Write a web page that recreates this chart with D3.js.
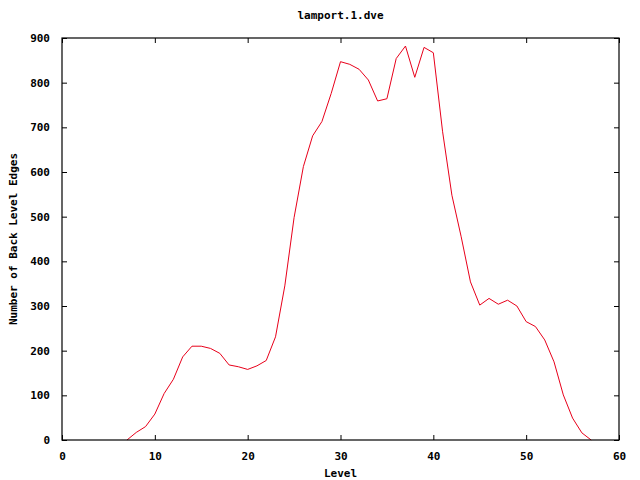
<!DOCTYPE html>
<html>
<head>
<meta charset="utf-8">
<script src="https://cdn.jsdelivr.net/npm/d3@7"></script>
<style>
  body { margin: 0; background: #fff; }
  text { font-family: "DejaVu Sans Mono", "Liberation Mono", monospace; font-weight: bold; font-size: 11px; fill: #000; }
</style>
</head>
<body>
<div id="chart"></div>
<script>
// Levels and back-level edge counts
// (levels 0-6 are zero and hidden under the x axis, so the line starts at 7)
const levels = d3.range(7, 58);
const edges = [
    0, 17, 30,
    58, 104, 136, 186, 210, 210, 205, 194, 168, 164,
    158, 166, 178, 231, 345, 498, 612, 681, 713, 776,
    847, 841, 830, 806, 759, 764, 854, 882, 812, 879,
    867, 690, 548, 455, 354, 302, 317, 304, 313, 300,
    265, 254, 224, 175, 101, 49, 16, 0
];
const xTicks = [0, 10, 20, 30, 40, 50, 60];
const yTicks = [0, 100, 200, 300, 400, 500, 600, 700, 800, 900];

const W = 640, H = 480;
const margin = { top: 38, right: 21, bottom: 40, left: 62 };
const width = W - margin.left - margin.right;
const height = H - margin.top - margin.bottom;

const svg = d3.select("#chart")
    .append("svg")
    .attr("width", W)
    .attr("height", H);

const g = svg.append("g")
    .attr("transform", `translate(${margin.left},${margin.top})`);

const x = d3.scaleLinear().domain([0, 60]).range([0, width]);
const y = d3.scaleLinear().domain([0, 900]).range([height, 0]);

// Data line first, frame drawn on top of it
const line = d3.line()
    .x((d, i) => x(levels[i]))
    .y(d => y(d));

g.append("path")
    .datum(edges)
    .attr("fill", "none")
    .attr("stroke", "#e8001a")
    .attr("stroke-width", 1)
    .attr("d", line);

// Gnuplot style ticks: inward on all four sides
function styleAxis(sel) {
    sel.select(".domain").remove();
    sel.selectAll("line").attr("stroke", "#000");
    sel.selectAll("text").style("font-size", "11px");
}

g.append("g")
    .attr("transform", `translate(0,${height})`)
    .call(d3.axisBottom(x).tickValues(xTicks).tickSize(-5).tickPadding(12))
    .call(styleAxis);

g.append("g")
    .call(d3.axisTop(x).tickValues(xTicks).tickSize(-5).tickFormat(""))
    .call(styleAxis);

g.append("g")
    .call(d3.axisLeft(y).tickValues(yTicks).tickSize(-5).tickPadding(12))
    .call(styleAxis);

g.append("g")
    .attr("transform", `translate(${width},0)`)
    .call(d3.axisRight(y).tickValues(yTicks).tickSize(-5).tickFormat(""))
    .call(styleAxis);

// Frame
g.append("rect")
    .attr("x", 0)
    .attr("y", 0)
    .attr("width", width)
    .attr("height", height)
    .attr("fill", "none")
    .attr("stroke", "#000")
    .attr("stroke-width", 1.2);

// Title and axis labels
svg.append("text")
    .attr("x", margin.left + width / 2)
    .attr("y", 19)
    .attr("text-anchor", "middle")
    .text("lamport.1.dve");

svg.append("text")
    .attr("x", margin.left + width / 2)
    .attr("y", 477)
    .attr("text-anchor", "middle")
    .text("Level");

svg.append("text")
    .attr("transform", "rotate(-90)")
    .attr("x", -(margin.top + height / 2))
    .attr("y", 17)
    .attr("text-anchor", "middle")
    .text("Number of Back Level Edges");
</script>
</body>
</html>
